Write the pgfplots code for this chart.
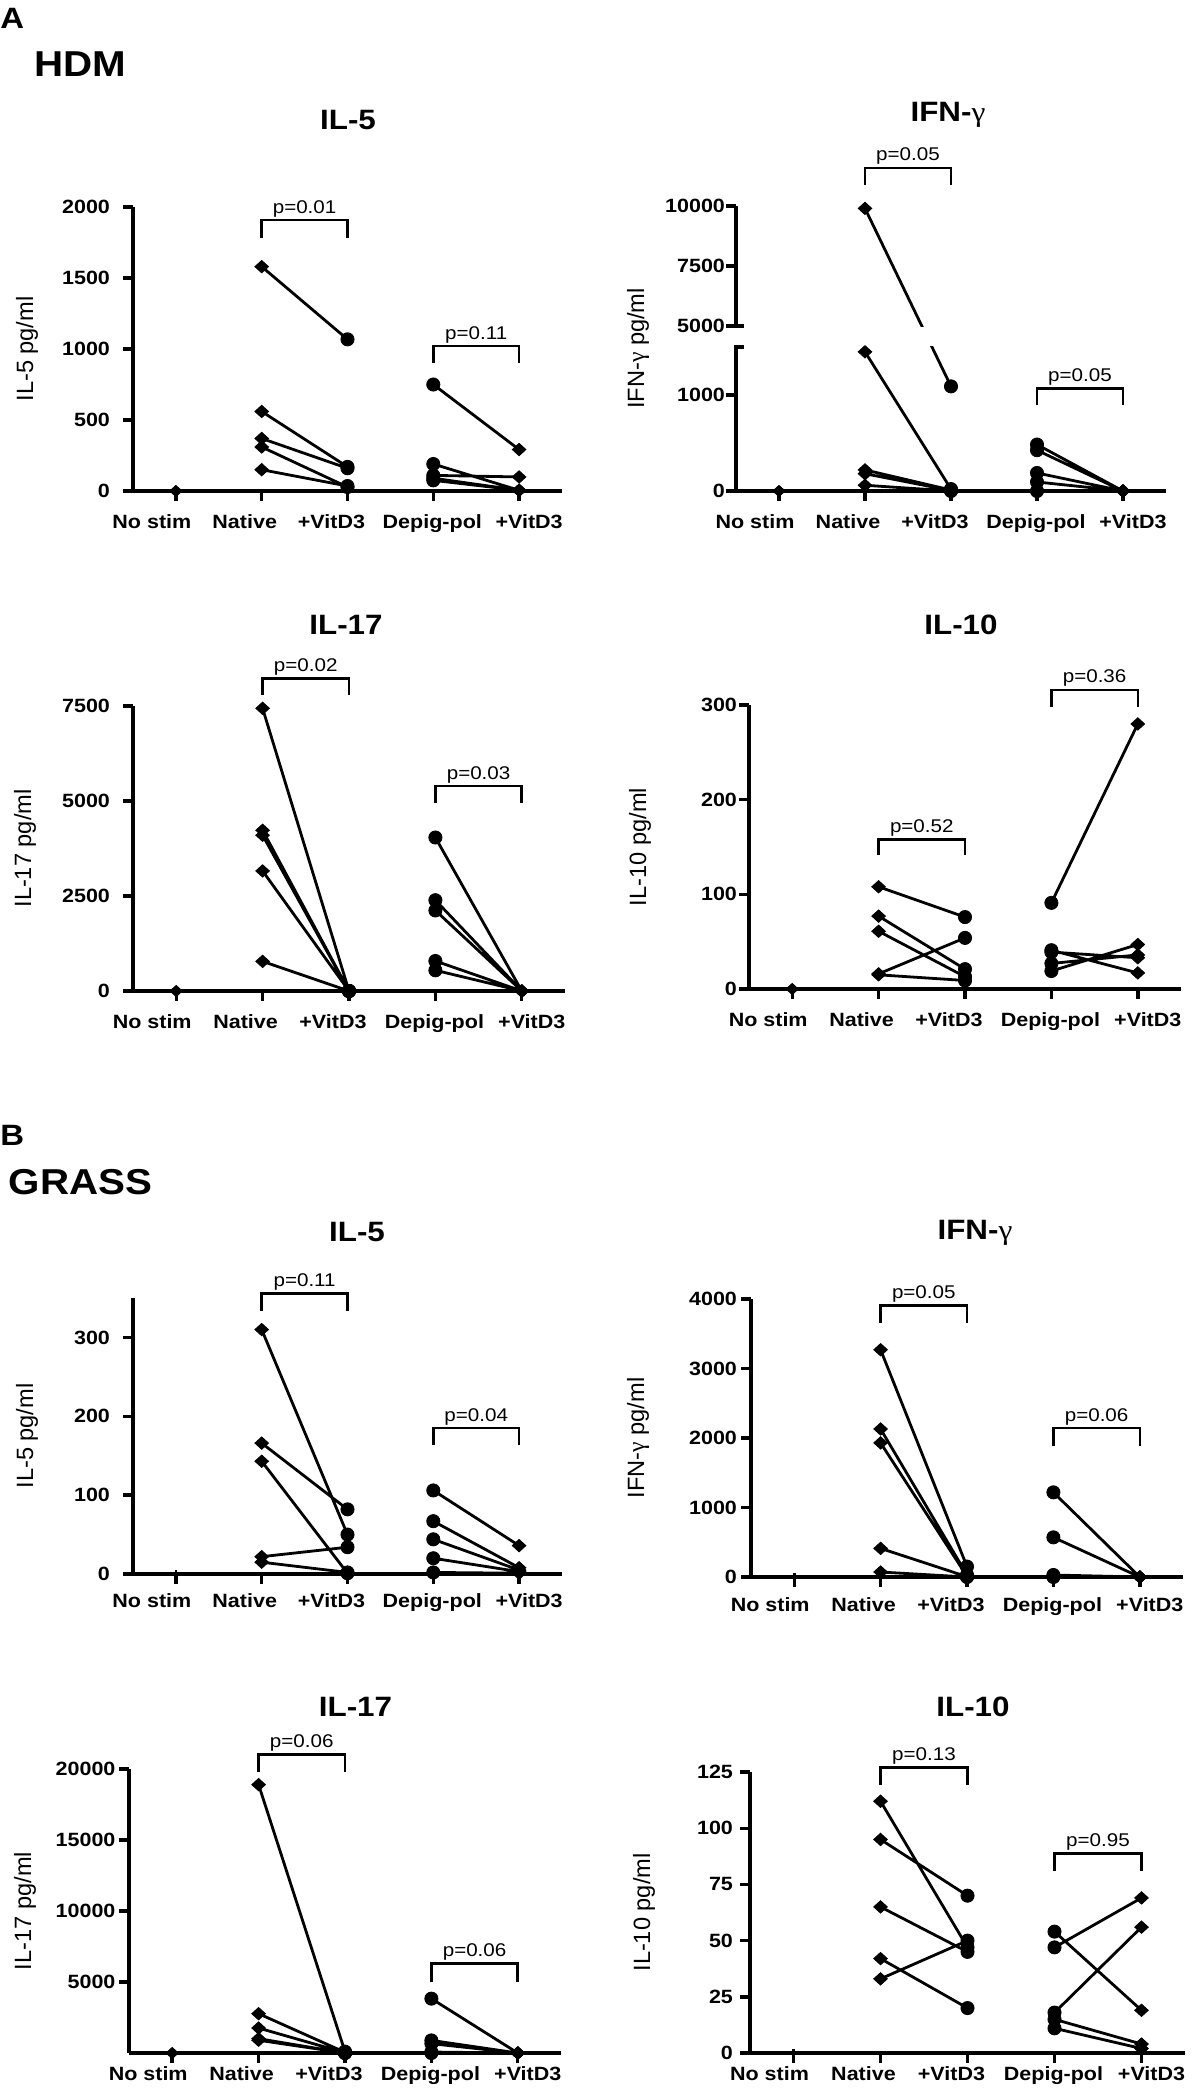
\documentclass[border=0pt]{standalone}
\usepackage{pgfplots}
\pgfplotsset{compat=1.18}
\usepackage{pgfplotstable}
\usepackage{fontspec}
\setmainfont{Liberation Sans}[FakeStretch=1.12]
\newfontfamily\ylf{Liberation Sans}
\newfontfamily\gr{Liberation Serif}[FakeStretch=1.12]
\newfontfamily\grn{Liberation Serif}
\newcommand\tl{\bfseries\fontsize{9.6}{10}\selectfont}
\newcommand\yl{\ylf\fontsize{11.8}{12}\selectfont}
\newcommand\pv{\fontsize{9.2}{10}\selectfont}
\newcommand\ttl{\bfseries\fontsize{14}{15}\selectfont}
\newcommand\gam{{\gr\mdseries γ}}
\newcommand\gamn{{\grn γ}}
\newcommand\xl[2]{\makebox[0pt]{\hspace*{#1}#2}}

\pgfdeclareplotmark{rd}{%
  \pgfpathmoveto{\pgfqpoint{0pt}{\pgfplotmarksize}}%
  \pgfpathlineto{\pgfqpoint{1.1\pgfplotmarksize}{0pt}}%
  \pgfpathlineto{\pgfqpoint{0pt}{-\pgfplotmarksize}}%
  \pgfpathlineto{\pgfqpoint{-1.1\pgfplotmarksize}{0pt}}%
  \pgfpathclose\pgfusepathqfillstroke}

\pgfplotsset{
  panel/.style={
    scale only axis, clip=false, anchor=south west,
    xmin=-0.5, xmax=4.5, ymin=0,
    axis lines=left,
    axis line style={-, line width=1.7pt},
    tick style={line width=1.7pt, black},
    major tick length=5pt,
    tick align=outside,
    xtick={0,1,2,3,4},
    xticklabels={\xl{-24pt}{No stim},\xl{-17pt}{Native},\xl{-16pt}{+VitD3},\xl{-1pt}{Depig-pol},\xl{10pt}{+VitD3}},
    ticklabel style={font=\tl},
    /pgf/number format/assume math mode=true,
    /pgf/number format/1000 sep={},
    scaled y ticks=false,
  },
  ylab/.style={every axis y label/.style={at={([xshift=#1]axis description cs:0,0.5)}, rotate=90, anchor=center, font=\yl}},
  ln/.style={black, line width=1.4pt, no markers, unbounded coords=jump},
  mk/.style={only marks, scatter, scatter src=explicit symbolic,
    scatter/classes={d={mark=rd, mark size=3.1pt, black}, c={mark=*, mark size=3.3pt, black}}},
  ns/.style={only marks, mark=rd, mark size=2.8pt, black},
  nsb/.style={only marks, mark=|, mark size=2.2pt, line width=1.4pt, black},
}
\newcommand\brk[5]{%
  \draw[line width=1.3pt] (axis cs:#1,#3) -- (axis cs:#1,#4) -- (axis cs:#2,#4) -- (axis cs:#2,#3);
  \node[anchor=base, font=\pv, inner sep=0pt] at ([yshift=3.5pt]axis cs:#1.5,#4) {#5};}

% ---------------- data ----------------
\pgfplotstableread{
x y c
1 1580 d
2 1068 c
nan nan c
1 560 d
2 170 c
nan nan c
1 370 d
2 160 c
nan nan c
1 310 d
2 28 c
nan nan c
1 150 d
2 35 c
nan nan c
3 750 c
4 292 d
nan nan c
3 190 c
4 5 d
nan nan c
3 110 c
4 99 d
nan nan c
3 90 c
4 5 d
nan nan c
3 75 c
4 5 d
}\tAa
\pgfplotstableread{
x y c
1 9900 d
2 1090 c
nan nan c
1 1450 d
2 20 c
nan nan c
1 220 d
2 10 c
nan nan c
1 180 d
2 5 c
nan nan c
1 60 d
2 0 c
nan nan c
3 484 c
4 0 d
nan nan c
3 425 c
4 0 d
nan nan c
3 188 c
4 0 d
nan nan c
3 94 c
4 0 d
nan nan c
3 0 c
4 0 d
}\tAb
\pgfplotstableread{
x y c
1 7440 d
2 0 c
nan nan c
1 4230 d
2 0 c
nan nan c
1 4100 d
2 0 c
nan nan c
1 3160 d
2 0 c
nan nan c
1 780 d
2 0 c
nan nan c
3 4040 c
4 0 d
nan nan c
3 2390 c
4 0 d
nan nan c
3 2120 c
4 0 d
nan nan c
3 790 c
4 0 d
nan nan c
3 545 c
4 0 d
}\tAc
\pgfplotstableread{
x y c
1 108 d
2 76 c
nan nan c
1 77 d
2 21 c
nan nan c
1 61 d
2 13 c
nan nan c
1 16 d
2 54 c
nan nan c
1 15 d
2 9 c
nan nan c
3 91 c
4 280 d
nan nan c
3 41 c
4 17 d
nan nan c
3 39 c
4 33 d
nan nan c
3 27 c
4 36 d
nan nan c
3 19 c
4 47 d
}\tAd
\pgfplotstableread{
x y c
1 310 d
2 50 c
nan nan c
1 166 d
2 82 c
nan nan c
1 143 d
2 1 c
nan nan c
1 22 d
2 34 c
nan nan c
1 15 d
2 2 c
nan nan c
3 106 c
4 36 d
nan nan c
3 67 c
4 8 d
nan nan c
3 44 c
4 5 d
nan nan c
3 20 c
4 3 d
nan nan c
3 2 c
4 1 d
}\tBa
\pgfplotstableread{
x y c
1 3270 d
2 150 c
nan nan c
1 2130 d
2 30 c
nan nan c
1 1930 d
2 10 c
nan nan c
1 412 d
2 5 c
nan nan c
1 72 d
2 0 c
nan nan c
3 1218 c
4 0 d
nan nan c
3 571 c
4 0 d
nan nan c
3 29 c
4 0 d
nan nan c
3 10 c
4 0 d
nan nan c
3 0 c
4 0 d
}\tBb
\pgfplotstableread{
x y c
1 18900 d
2 100 c
nan nan c
1 2770 d
2 50 c
nan nan c
1 1760 d
2 20 c
nan nan c
1 1010 d
2 0 c
nan nan c
1 900 d
2 0 c
nan nan c
3 3830 c
4 0 d
nan nan c
3 890 c
4 0 d
nan nan c
3 660 c
4 0 d
nan nan c
3 70 c
4 0 d
nan nan c
3 0 c
4 0 d
}\tBc
\pgfplotstableread{
x y c
1 112 d
2 47 c
nan nan c
1 95 d
2 70 c
nan nan c
1 65 d
2 45 c
nan nan c
1 42 d
2 20 c
nan nan c
1 33 d
2 50 c
nan nan c
3 54 c
4 19 d
nan nan c
3 47 c
4 69 d
nan nan c
3 18 c
4 56 d
nan nan c
3 15 c
4 4 d
nan nan c
3 11 c
4 2 d
}\tBd

\begin{document}
\begin{tikzpicture}
\useasboundingbox (0,0) rectangle (600pt,-1046.5pt);

% panel labels
\node[anchor=base west, inner sep=0pt, font=\bfseries\fontsize{14.7}{16}\selectfont] at (0pt,-14.2pt) {A};
\node[anchor=base west, inner sep=0pt, font=\bfseries\fontsize{18}{20}\selectfont] at (17pt,-38pt) {HDM};
\node[anchor=base west, inner sep=0pt, font=\bfseries\fontsize{14.7}{16}\selectfont] at (0pt,-572.5pt) {B};
\node[anchor=base west, inner sep=0pt, font=\bfseries\fontsize{18}{20}\selectfont] at (4.3pt,-597pt) {GRASS};

% titles
\node[anchor=base, font=\ttl] at (174pt,-64.75pt) {IL-5};
\node[anchor=base, font=\ttl] at (474pt,-60.75pt) {IFN-\gam};
\node[anchor=base, font=\ttl] at (173pt,-317.25pt) {IL-17};
\node[anchor=base, font=\ttl] at (480.5pt,-317.25pt) {IL-10};
\node[anchor=base, font=\ttl] at (178.5pt,-620.75pt) {IL-5};
\node[anchor=base, font=\ttl] at (487.5pt,-619.75pt) {IFN-\gam};
\node[anchor=base, font=\ttl] at (177.75pt,-858.25pt) {IL-17};
\node[anchor=base, font=\ttl] at (486.5pt,-858.25pt) {IL-10};

% ===== A: IL-5 =====
\begin{axis}[panel, at={(66.5pt,-245.5pt)}, width=214.5pt, height=142pt,
  ymax=2000, ytick={0,500,1000,1500,2000},
  ylab=-53pt, ylabel={IL-5 pg/ml},
  yticklabel style={xshift=-3pt}, xticklabel style={yshift=-3.5pt}]
\addplot[ln] table[x=x,y=y] {\tAa};
\addplot[mk] table[x=x,y=y,meta=c] {\tAa};
\addplot[ns] coordinates {(0,0)};
\brk{1}{2}{1781}{1908}{p=0.01}
\brk{3}{4}{901}{1021}{p=0.11}
\end{axis}

% ===== A: IFN-gamma (broken axis) =====
\begin{axis}[panel, at={(368pt,-245.5pt)}, width=215pt, height=142.5pt,
  ymax=2969, ytick={0,1000,1719,2344,2969}, yticklabels={0,1000,5000,7500,10000},
  y filter/.expression={y>3000 ? 1719+(y-5000)/4 : y},
  y axis line style={draw=none},
  ylab=-49pt, ylabel={IFN-\gamn\ pg/ml},
  yticklabel style={xshift=3pt}, xticklabel style={yshift=-3.5pt}]
\addplot[ln] table[x=x,y=y] {\tAb};
\fill[white] (axis cs:-0.4,1506) rectangle (axis cs:4.5,1713);
\addplot[mk] table[x=x,y=y,meta=c] {\tAb};
\addplot[ns] coordinates {(0,0)};
\draw[line width=1.7pt] (axis cs:-0.5,0) -- (axis cs:-0.5,1500);
\draw[line width=1.7pt] (axis cs:-0.5,1719) -- (axis cs:-0.5,2969);
\draw[line width=1.7pt] ([xshift=-1pt]axis cs:-0.5,1500) -- ([xshift=4pt]axis cs:-0.5,1500);
\draw[line width=1.7pt] ([xshift=-4.5pt]axis cs:-0.5,1719) -- ([xshift=4pt]axis cs:-0.5,1719);
\brk{1}{2}{3188}{3365}{p=0.05}
\brk{3}{4}{895}{1070}{p=0.05}
\end{axis}

% ===== A: IL-17 =====
\begin{axis}[panel, at={(66.5pt,-495.5pt)}, width=216pt, height=142.5pt,
  ymax=7500, ytick={0,2500,5000,7500},
  ylab=-54pt, ylabel={IL-17 pg/ml},
  yticklabel style={xshift=-3pt}, xticklabel style={yshift=-3.5pt}]
\addplot[ln] table[x=x,y=y] {\tAc};
\addplot[mk] table[x=x,y=y,meta=c] {\tAc};
\addplot[ns] coordinates {(0,0)};
\brk{1}{2}{7788}{8227}{p=0.02}
\brk{3}{4}{4952}{5391}{p=0.03}
\end{axis}

% ===== A: IL-10 =====
\begin{axis}[panel, at={(374.5pt,-494.5pt)}, width=216pt, height=142pt,
  ymax=300, ytick={0,100,200,300},
  ylab=-54.5pt, ylabel={IL-10 pg/ml},
  yticklabel style={xshift=2.5pt}, xticklabel style={yshift=-3.5pt}]
\addplot[ln] table[x=x,y=y] {\tAd};
\addplot[mk] table[x=x,y=y,meta=c] {\tAd};
\addplot[ns] coordinates {(0,0)};
\brk{1}{2}{142}{158}{p=0.52}
\brk{3}{4}{298}{316}{p=0.36}
\end{axis}

% ===== B: IL-5 =====
\begin{axis}[panel, at={(66.5pt,-787pt)}, width=214.5pt, height=138pt,
  ymax=350, ytick={0,100,200,300},
  ylab=-53pt, ylabel={IL-5 pg/ml},
  yticklabel style={xshift=-3pt}, xticklabel style={yshift=-1.5pt}]
\addplot[ln] table[x=x,y=y] {\tBa};
\addplot[mk] table[x=x,y=y,meta=c] {\tBa};
\addplot[nsb] coordinates {(0,0)};
\brk{1}{2}{334}{356}{p=0.11}
\brk{3}{4}{164}{185}{p=0.04}
\end{axis}

% ===== B: IFN-gamma =====
\begin{axis}[panel, at={(375.5pt,-788.5pt)}, width=216pt, height=139pt,
  ymax=4000, ytick={0,1000,2000,3000,4000},
  ylab=-56.5pt, ylabel={IFN-\gamn\ pg/ml},
  yticklabel style={xshift=1.5pt}, xticklabel style={yshift=-1.5pt}]
\addplot[ln] table[x=x,y=y] {\tBb};
\addplot[mk] table[x=x,y=y,meta=c] {\tBb};
\addplot[nsb] coordinates {(0,0)};
\brk{1}{2}{3655}{3904}{p=0.05}
\brk{3}{4}{1880}{2144}{p=0.06}
\end{axis}

% ===== B: IL-17 =====
\begin{axis}[panel, at={(64.5pt,-1026.5pt)}, width=216pt, height=142pt,
  ymax=20000, ytick={5000,10000,15000,20000},
  ylab=-52pt, ylabel={IL-17 pg/ml},
  yticklabel style={xshift=1.75pt}, xticklabel style={yshift=2pt}]
\addplot[ln] table[x=x,y=y] {\tBc};
\addplot[mk] table[x=x,y=y,meta=c] {\tBc};
\addplot[ns] coordinates {(0,0)};
\brk{1}{2}{19765}{21033}{p=0.06}
\brk{3}{4}{5006}{6298}{p=0.06}
\end{axis}

% ===== B: IL-10 =====
\begin{axis}[panel, at={(375pt,-1026.5pt)}, width=217.5pt, height=140.5pt,
  ymax=125, ytick={0,25,50,75,100,125},
  ylab=-53pt, ylabel={IL-10 pg/ml},
  yticklabel style={xshift=0pt}, xticklabel style={yshift=2pt}]
\addplot[ln] table[x=x,y=y] {\tBd};
\addplot[mk] table[x=x,y=y,meta=c] {\tBd};
\addplot[nsb] coordinates {(0,0)};
\brk{1}{2}{119.1}{126.9}{p=0.13}
\brk{3}{4}{81.0}{88.7}{p=0.95}
\end{axis}
\end{tikzpicture}
\end{document}
